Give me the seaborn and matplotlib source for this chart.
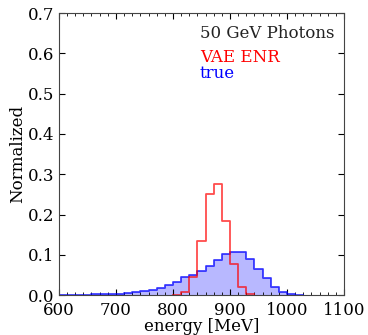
import numpy as np
import pandas as pd
import seaborn as sns
import matplotlib.pyplot as plt
from matplotlib.ticker import MultipleLocator

# 35 bins between 600 and 1100 MeV
edges = np.linspace(600, 1100, 36)
centers = 0.5 * (edges[:-1] + edges[1:])

# true energy, normalized (bins 0..29)
true_vals = [0.0005, 0.0005, 0.001, 0.0015, 0.002, 0.0025, 0.003, 0.004, 0.006, 0.0075,
             0.010, 0.012, 0.018, 0.025, 0.033, 0.045, 0.050, 0.059, 0.073, 0.088,
             0.101, 0.108, 0.106, 0.090, 0.065, 0.042, 0.021, 0.007, 0.003, 0.001]
# VAE ENR reconstruction (bins 14..23)
vae_vals = [0.001, 0.007, 0.045, 0.134, 0.252, 0.275, 0.185, 0.078, 0.020, 0.003]

df_true = pd.DataFrame({"energy": centers[:30], "w": true_vals})
df_vae = pd.DataFrame({"energy": centers[14:24], "w": vae_vals})
true_bins = list(edges[:31])
vae_bins = list(edges[14:25])

plt.rcParams['font.family'] = ['DejaVu Serif']
plt.rcParams['xtick.direction'] = 'in'
plt.rcParams['ytick.direction'] = 'in'
plt.rcParams['xtick.top'] = True
plt.rcParams['ytick.right'] = True

fig = plt.figure(figsize=(3.68, 3.35), dpi=100)
ax = fig.add_axes([0.160, 0.119, 0.775, 0.842])

sns.histplot(data=df_true, x="energy", weights="w", bins=true_bins, element="step",
             fill=True, color="blue", alpha=0.28, linewidth=0, ax=ax)
sns.histplot(data=df_true, x="energy", weights="w", bins=true_bins, element="step",
             fill=False, color="blue", alpha=0.75, linewidth=1.3, ax=ax)
sns.histplot(data=df_vae, x="energy", weights="w", bins=vae_bins, element="step",
             fill=False, color="red", alpha=0.7, linewidth=1.3, ax=ax)

ax.set_xlim(600, 1100)
ax.set_ylim(0, 0.7)
ax.xaxis.set_major_locator(MultipleLocator(100))
ax.xaxis.set_minor_locator(MultipleLocator(100 / 7))
ax.yaxis.set_major_locator(MultipleLocator(0.1))
ax.tick_params(which='major', length=4, labelsize=12)
ax.tick_params(axis='x', which='major', pad=5)
ax.tick_params(which='minor', length=2)
for s in ax.spines.values():
    s.set_color('#444444')
ax.set_xlabel("energy [MeV]", fontsize=12, labelpad=-1)
ax.set_ylabel("Normalized", fontsize=12, labelpad=1)

ax.text(0.495, 0.929, "50 GeV Photons", transform=ax.transAxes, fontsize=12, va='center', color='#222222')
ax.text(0.495, 0.844, "VAE ENR", transform=ax.transAxes, fontsize=12, va='center', color='red')
ax.text(0.495, 0.787, "true", transform=ax.transAxes, fontsize=12, va='center', color='blue')

fig.savefig("out.png", dpi=100)
